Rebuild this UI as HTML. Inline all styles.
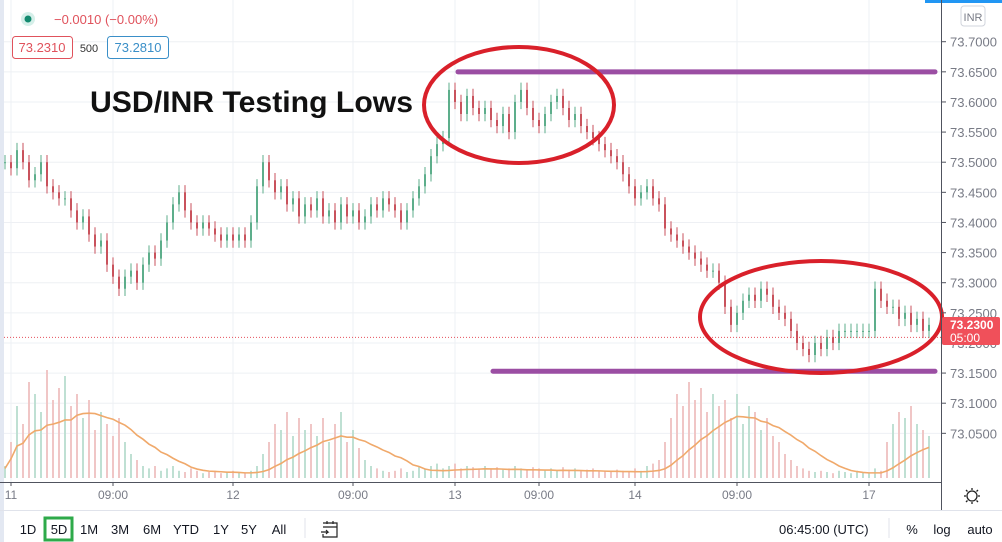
<!DOCTYPE html>
<html><head><meta charset="utf-8">
<style>
body{margin:0;width:1002px;height:542px;overflow:hidden;background:#fff;font-family:"Liberation Sans",sans-serif;}
#wrap{position:relative;width:1002px;height:542px;}
svg{position:absolute;left:0;top:0;}
</style></head>
<body>
<div id="wrap">
<svg id="chart" width="1002" height="542"></svg>
</div>
<script>
const closes=[73.50,73.49,73.52,73.50,73.47,73.48,73.50,73.46,73.45,73.44,
73.44,73.42,73.40,73.41,73.38,73.36,73.37,73.33,73.31,73.29,
73.31,73.32,73.30,73.33,73.35,73.34,73.37,73.40,73.43,73.45,
73.42,73.40,73.39,73.40,73.39,73.38,73.37,73.38,73.37,73.38,
73.37,73.40,73.46,73.50,73.47,73.45,73.46,73.43,73.44,73.41,
73.43,73.42,73.44,73.41,73.42,73.40,73.43,73.41,73.42,73.40,
73.41,73.43,73.42,73.44,73.43,73.42,73.40,73.42,73.44,73.46,
73.48,73.51,73.53,73.54,73.62,73.60,73.58,73.61,73.59,73.58,
73.59,73.57,73.56,73.58,73.55,73.60,73.62,73.59,73.57,73.56,
73.58,73.60,73.61,73.59,73.57,73.58,73.56,73.55,73.54,73.53,
73.52,73.51,73.50,73.48,73.46,73.44,73.45,73.46,73.44,73.43,
73.39,73.38,73.37,73.36,73.35,73.34,73.33,73.32,73.32,73.30,
73.26,73.23,73.25,73.27,73.28,73.27,73.29,73.28,73.26,73.25,
73.24,73.22,73.20,73.19,73.18,73.20,73.19,73.21,73.20,73.22,
73.22,73.22,73.22,73.22,73.22,73.29,73.27,73.26,73.26,73.24,
73.25,73.23,73.24,73.22,73.23];
const volumes=[10,30,60,45,80,70,55,90,65,75,
85,60,70,50,65,40,55,45,35,50,
30,20,15,10,8,10,6,8,10,6,
5,8,6,4,5,6,4,5,6,5,
4,6,10,20,30,45,40,55,35,50,
40,45,35,50,30,45,55,30,40,25,
15,10,8,6,5,6,8,5,6,10,
8,10,12,8,10,12,8,10,9,8,
10,8,9,7,8,10,8,7,9,8,
7,8,6,9,7,8,6,7,8,6,
6,5,7,6,5,8,6,10,12,15,
30,50,70,60,80,65,75,55,70,60,
65,50,70,45,60,55,40,50,35,30,
20,15,10,8,6,5,6,5,4,6,
5,4,6,5,4,8,6,30,45,55,
50,60,45,40,35];
const priceTicks=[73.70,73.65,73.60,73.55,73.50,73.45,73.40,73.35,73.30,73.25,73.20,73.15,73.10,73.05];
const timeLabels=["11","09:00","12","09:00","13","09:00","14","09:00","17"];
const timeIdx=[1,18,38,58,75,89,105,122,144];
const lastPrice=73.21;
const levels=[73.65,73.153];

const NS="http://www.w3.org/2000/svg";
const svg=document.getElementById('chart');
function el(t,a,p){const e=document.createElementNS(NS,t);for(const k in a)e.setAttribute(k,a[k]);(p||svg).appendChild(e);return e;}
const yP=p=>41.7+(73.70-p)*602.5;
const xI=i=>5+i*6;
const yV=v=>478-v*1.2;

let r=el('rect',{x:0,y:0,width:4,height:542,fill:'#e3e8f2'});

r=el('rect',{x:925,y:0,width:77,height:3,fill:'#2196f3'});


priceTicks.forEach(p=>{const l=el('line',{x1:4,x2:941,y1:yP(p),y2:yP(p),stroke:'#eef0f4','stroke-width':1});
});
timeIdx.forEach(i=>{const l=el('line',{x1:xI(i),x2:xI(i),y1:0,y2:482,stroke:'#eef0f4','stroke-width':1});
});

volumes.forEach((v,i)=>{const up=i===0||closes[i]>=closes[i-1];
const b=el('rect',{x:xI(i)-1,y:yV(v),width:2,height:478-yV(v),fill:up?'#bfe0d3':'#f0c6c6'});
});
let pts=[];volumes.forEach((v,i)=>{const s=volumes.slice(Math.max(0,i-11),i+1);const m=s.reduce((a,b)=>a+b,0)/s.length;pts.push(xI(i)+','+yV(m*0.8));});
let ma=el('polyline',{points:pts.join(' '),fill:'none',stroke:'#f0a96b','stroke-width':1.6});


closes.forEach((c,i)=>{const o=i===0?c:closes[i-1];const up=c>=o;const col=up?'#5dae8b':'#c9525c';
const hi=Math.max(o,c)+0.012,lo=Math.min(o,c)-0.012;
const g=el('g',{});
el('line',{x1:xI(i),x2:xI(i),y1:yP(hi),y2:yP(lo),stroke:col,'stroke-width':1},g);
const t=Math.min(yP(o),yP(c));el('rect',{x:xI(i)-1,y:t,width:2,height:Math.max(1,Math.abs(yP(o)-yP(c))),fill:col},g);});

let lp=el('line',{x1:4,x2:941,y1:yP(lastPrice)+0.5,y2:yP(lastPrice)+0.5,stroke:'#e5515c','stroke-width':1,'stroke-dasharray':'1,2'});


let lv=el('line',{x1:458,x2:935,y1:yP(levels[0]),y2:yP(levels[0]),stroke:'#9b4ea3','stroke-width':5,'stroke-linecap':'round'});

lv=el('line',{x1:493,x2:935,y1:yP(levels[1]),y2:yP(levels[1]),stroke:'#9b4ea3','stroke-width':5,'stroke-linecap':'round'});

let e1=el('ellipse',{cx:519,cy:105,rx:95,ry:58,fill:'none',stroke:'#d9202a','stroke-width':4});

let e2=el('ellipse',{cx:821,cy:317,rx:121,ry:56,fill:'none',stroke:'#d9202a','stroke-width':4});

let ti=el('text',{x:90,y:112,'font-size':30,'font-weight':'bold',fill:'#111','font-family':'Liberation Sans, sans-serif',textLength:323,lengthAdjust:'spacingAndGlyphs'});
ti.textContent='USD/INR Testing Lows';

let ax=el('line',{x1:941.5,x2:941.5,y1:0,y2:510,stroke:'#50535e','stroke-width':1});

ax=el('line',{x1:0,x2:941,y1:482.5,y2:482.5,stroke:'#50535e','stroke-width':1});

ax=el('line',{x1:0,x2:1002,y1:510.5,y2:510.5,stroke:'#e0e3eb','stroke-width':1});


priceTicks.forEach(p=>{el('line',{x1:941,x2:946,y1:yP(p),y2:yP(p),stroke:'#50535e'});
const t=el('text',{x:950,y:yP(p)+5,'font-size':13,fill:'#787b86'});t.textContent=p.toFixed(4);
});
timeLabels.forEach((s,i)=>{const x=xI(timeIdx[i]);el('line',{x1:x,x2:x,y1:482,y2:486,stroke:'#50535e'});
const t=el('text',{x:x,y:499,'font-size':12,fill:'#787b86','text-anchor':'middle'});t.textContent=s;
});

let pl=el('g',{});
el('rect',{x:942,y:317,width:58,height:28,rx:2,fill:'#f0505a'},pl);
let t1=el('text',{x:950,y:329,'font-size':12,fill:'#fff','font-weight':'bold'},pl);t1.textContent='73.2300';
let t2=el('text',{x:950,y:342,'font-size':12,fill:'#fff'},pl);t2.textContent='05:00';
let ib=el('g',{});
el('rect',{x:961,y:6,width:24,height:20,rx:3,fill:'#fff',stroke:'#d1d4dc'},ib);
let it=el('text',{x:973,y:21,'font-size':11,fill:'#787b86','text-anchor':'middle'},ib);it.textContent='INR';

let lg=el('g',{});
el('circle',{cx:28,cy:19,r:7,fill:'#d5efe9'},lg);el('circle',{cx:28,cy:19,r:3.5,fill:'#138a6f'},lg);
let lt=el('text',{x:54,y:24,'font-size':13,fill:'#e0525c'},lg);lt.textContent='\u22120.0010 (\u22120.00%)';
el('rect',{x:12.5,y:36.5,width:60,height:22,rx:3,fill:'#fff',stroke:'#e0525c'},lg);
let b1=el('text',{x:42,y:52,'font-size':13,fill:'#e0525c','text-anchor':'middle'},lg);b1.textContent='73.2310';
let b0=el('text',{x:89,y:52,'font-size':11,fill:'#333','text-anchor':'middle'},lg);b0.textContent='500';
el('rect',{x:107.5,y:36.5,width:61,height:22,rx:3,fill:'#fff',stroke:'#3a8fc8'},lg);
let b2=el('text',{x:138,y:52,'font-size':13,fill:'#3a8fc8','text-anchor':'middle'},lg);b2.textContent='73.2810';

let gr=el('g',{});
el('circle',{cx:972,cy:496,r:5,fill:'none',stroke:'#222','stroke-width':1.3},gr);
[[972,488,972,490],[972,502,972,504],[964,496,966,496],[978,496,980,496],[966,490,967.5,491.5],[976.5,500.5,978,502],[978,490,976.5,491.5],[967.5,500.5,966,502]].forEach(a=>el('line',{x1:a[0],y1:a[1],x2:a[2],y2:a[3],stroke:'#222','stroke-width':1.3},gr));

const ranges=['1D','5D','1M','3M','6M','YTD','1Y','5Y','All'];
const rx=[28,59,89,120,152,186,221,249,279];
ranges.forEach((s,i)=>{
if(s==='5D'){const bx=el('rect',{x:45,y:518,width:27,height:22,fill:'none',stroke:'#2eaa4a','stroke-width':3});}
const t=el('text',{x:rx[i],y:534,'font-size':13,fill:'#131722','text-anchor':'middle'});t.textContent=s;
});
el('line',{x1:305,x2:305,y1:518,y2:538,stroke:'#e0e3eb'});
let cal=el('g',{});
el('path',{d:'M323 523 h14 v14 h-14 v-3 M323 527 h14 M327 521 v3 M333 521 v3 M321 532 h7 l-2 -2 M328 532 l-2 2',fill:'none',stroke:'#222','stroke-width':1.2},cal);
let tm=el('text',{x:779,y:534,'font-size':13,fill:'#131722'});tm.textContent='06:45:00 (UTC)';

el('line',{x1:889,x2:889,y1:518,y2:538,stroke:'#e0e3eb'});
[['%',912,'percent-toggle'],['log',942,'log-toggle'],['auto',980,'auto-toggle']].forEach(a=>{const t=el('text',{x:a[1],y:534,'font-size':13,fill:'#131722','text-anchor':'middle'});t.textContent=a[0];
});
</script>
</body></html>
